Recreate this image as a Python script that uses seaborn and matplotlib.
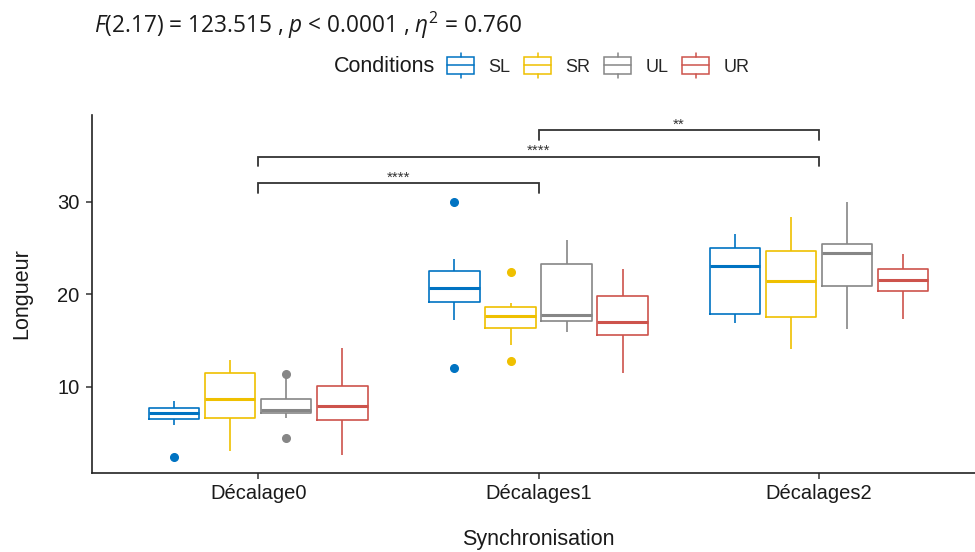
import matplotlib
matplotlib.use("Agg")
import matplotlib.pyplot as plt
import matplotlib.patches as mpatches
from matplotlib.lines import Line2D
from matplotlib.legend_handler import HandlerBase
import pandas as pd
import seaborn as sns

sns.set_theme(style="ticks")
plt.rcParams['font.family'] = ['Liberation Sans', 'DejaVu Sans']
plt.rcParams['mathtext.fontset'] = 'custom'
plt.rcParams['mathtext.rm'] = 'Open Sans'
plt.rcParams['mathtext.it'] = 'Open Sans:italic'

synchros = ['Décalage0', 'Décalages1', 'Décalages2']
conditions = ['SL', 'SR', 'UL', 'UR']
colors = ['#0073C2', '#EFC000', '#868686', '#CD534C']

d0_SL = [2.4, 5.9, 6.5, 6.9, 7.24, 7.5, 7.76, 8.1, 8.5]
d0_SR = [3.1, 5.2, 6.6, 7.8, 8.7, 10.2, 11.55, 12.3, 12.9]
d0_UL = [4.5, 6.6, 7.15, 7.3, 7.5, 8.1, 8.7, 10.95, 11.35]
d0_UR = [2.65, 5.0, 6.45, 7.2, 7.95, 9.0, 10.15, 12.0, 14.2]

d1_SL = [12.0, 17.25, 19.2, 20.0, 20.65, 21.6, 22.55, 23.8, 30.0]
d1_SR = [12.85, 14.55, 16.4, 17.1, 17.7, 18.2, 18.6, 19.05, 22.4]
d1_UL = [15.9, 16.6, 17.1, 17.5, 17.8, 20.5, 23.3, 24.8, 25.9]
d1_UR = [11.5, 13.8, 15.6, 16.4, 17.05, 18.5, 19.85, 21.3, 22.7]

d2_SL = [16.95, 17.5, 17.9, 20.8, 23.1, 24.2, 25.0, 25.8, 26.5]
d2_SR = [14.1, 16.0, 17.6, 19.5, 21.45, 23.2, 24.65, 26.5, 28.35]
d2_UL = [16.3, 19.0, 20.9, 22.8, 24.45, 25.0, 25.5, 27.5, 30.0]
d2_UR = [17.4, 19.2, 20.4, 21.0, 21.55, 22.2, 22.8, 23.5, 24.4]

# pairwise comparisons: (group a, group b, label, bracket height)
comparisons = [
    ('Décalage0', 'Décalages1', '****', 32.0),
    ('Décalage0', 'Décalages2', '****', 34.9),
    ('Décalages1', 'Décalages2', '**', 37.75),
]

cells = {
    ('Décalage0', 'SL'): d0_SL, ('Décalage0', 'SR'): d0_SR,
    ('Décalage0', 'UL'): d0_UL, ('Décalage0', 'UR'): d0_UR,
    ('Décalages1', 'SL'): d1_SL, ('Décalages1', 'SR'): d1_SR,
    ('Décalages1', 'UL'): d1_UL, ('Décalages1', 'UR'): d1_UR,
    ('Décalages2', 'SL'): d2_SL, ('Décalages2', 'SR'): d2_SR,
    ('Décalages2', 'UL'): d2_UL, ('Décalages2', 'UR'): d2_UR,
}
rows = []
for (s, c), vals in cells.items():
    for v in vals:
        rows.append({'Synchronisation': s, 'Conditions': c, 'Longueur': v})
df = pd.DataFrame(rows)


class BoxHandler(HandlerBase):
    """Little boxplot glyph for the legend keys."""
    def create_artists(self, legend, orig_handle, xdescent, ydescent,
                       width, height, fontsize, trans):
        col = orig_handle.get_edgecolor()
        x0 = -xdescent
        yc = -ydescent + height / 2
        bh, wh = 6.0, 9.0
        rect = mpatches.Rectangle((x0, yc - bh), width, 2 * bh, fill=False,
                                  edgecolor=col, linewidth=1.1, transform=trans)
        med = Line2D([x0, x0 + width], [yc, yc], color=col, lw=1.1, transform=trans)
        wtop = Line2D([x0 + width / 2] * 2, [yc + bh, yc + wh], color=col, lw=1.1, transform=trans)
        wbot = Line2D([x0 + width / 2] * 2, [yc - bh, yc - wh], color=col, lw=1.1, transform=trans)
        return [rect, med, wtop, wbot]


fig = plt.figure(figsize=(9.75, 5.52), dpi=100)
ax = fig.add_axes([92 / 975, 1 - 473 / 552, (975 - 92) / 975, (473 - 115) / 552])

sns.boxplot(data=df, x='Synchronisation', y='Longueur', hue='Conditions',
            order=synchros, hue_order=conditions, palette=colors,
            fill=False, width=0.8, gap=0.1, showcaps=False, linewidth=1.2,
            medianprops=dict(linewidth=2.2),
            flierprops=dict(marker='o', markersize=5.5),
            legend=False, ax=ax)

# filled outlier dots like ggplot
for ln in ax.lines:
    if ln.get_marker() == 'o':
        ln.set_markerfacecolor(ln.get_markeredgecolor())

# significance brackets
for a, b, lab, h in comparisons:
    xa, xb = synchros.index(a), synchros.index(b)
    ax.plot([xa, xa, xb, xb], [h - 1.05, h, h, h - 1.05], color='#333333', lw=1.3,
            solid_joinstyle='miter')
    ax.text((xa + xb) / 2, h - 0.15, lab, ha='center', va='bottom', fontsize=11,
            color='#333333')

ax.set_xlim(-0.593, 2.557)
ax.set_ylim(0.7, 39.4)
ax.set_yticks([10, 20, 30])
sns.despine(ax=ax)
for sp in ['left', 'bottom']:
    ax.spines[sp].set_linewidth(1.2)
    ax.spines[sp].set_color('#222222')
ax.tick_params(axis='both', length=4, width=1.1, color='#333333',
               labelsize=14.5, labelcolor='#1a1a1a')
ax.tick_params(axis='y', pad=5)
ax.tick_params(axis='x', pad=4)
ax.set_xlabel('Synchronisation', fontsize=15.5, color='#1a1a1a')
ax.set_ylabel('Longueur', fontsize=15.5, color='#1a1a1a')
ax.xaxis.set_label_coords((538 - 92) / 883, -(540 - 473) / 358)
ax.xaxis.label.set_va('center')
ax.yaxis.set_label_coords((22 - 92) / 883, 0.5)
ax.yaxis.label.set_va('center')

# title with italic F, p and eta
fig.text(94 / 975, 1 - 25 / 552,
         r'$\mathit{F}$(2.17) = 123.515 , $\mathit{p}$ < 0.0001 , $\mathit{\eta}^2$ = 0.760',
         family='Open Sans', fontsize=16.3, color='#1a1a1a', ha='left', va='center')

# legend on top, horizontal
fig.text(435 / 975, 1 - 67 / 552, 'Conditions', fontsize=15.5, color='#1a1a1a',
         ha='right', va='center')
handles = [mpatches.Patch(edgecolor=c, facecolor='none') for c in colors]
fig.legend(handles, conditions, handler_map={mpatches.Patch: BoxHandler()},
           loc='center left', bbox_to_anchor=(447 / 975, 1 - 67 / 552), ncol=4,
           frameon=False, fontsize=13, handlelength=1.5, handletextpad=0.8,
           columnspacing=0.75, borderpad=0, borderaxespad=0)

fig.savefig('out.png', dpi=100)
plt.close(fig)
